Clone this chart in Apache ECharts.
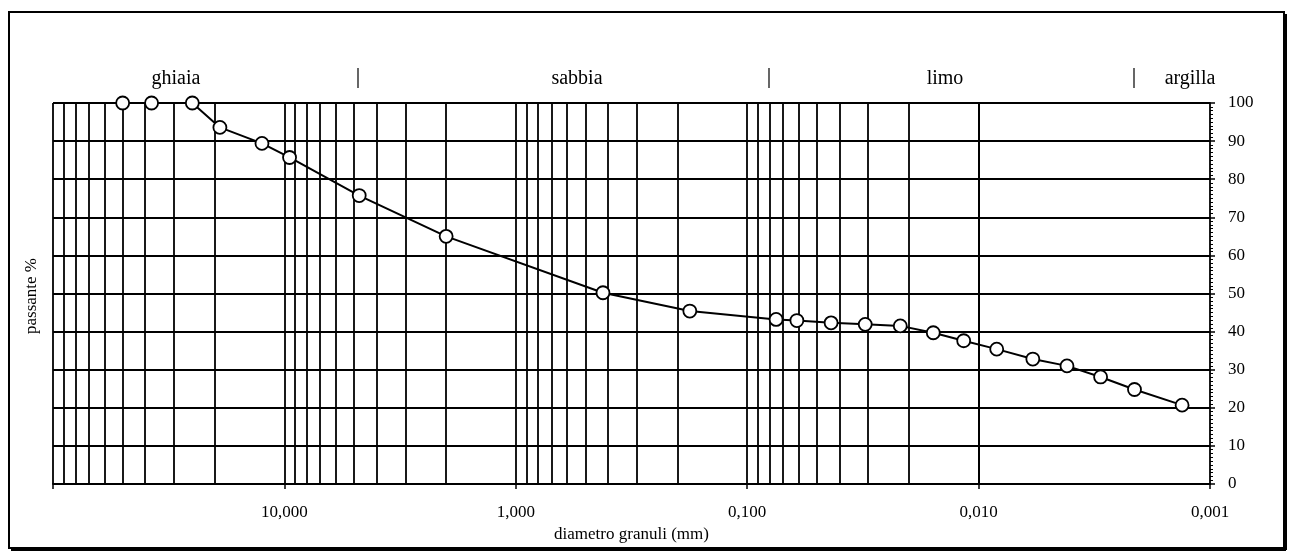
<!DOCTYPE html>
<html>
<head>
<meta charset="utf-8">
<script src="https://cdn.jsdelivr.net/npm/echarts@6/dist/echarts.min.js"></script>
<style>
  html, body { margin: 0; padding: 0; background: #fff; }
  #chart { width: 1293px; height: 554px; }
</style>
</head>
<body>
<div id="chart"></div>
<script>
// curva granulometrica: diametro (mm) / passante (%)
const diametri = [50, 37.5, 25, 19, 12.5, 9.5, 4.75, 2, 0.42, 0.177, 0.075, 0.061, 0.0434, 0.0309,
  0.0218, 0.0157, 0.0116, 0.00835, 0.00583, 0.00415, 0.00297, 0.00212, 0.00132];
const passante = [100, 100, 100, 93.6, 89.4, 85.7, 75.7, 65.0, 50.2, 45.4, 43.2, 42.9, 42.3, 41.9,
  41.5, 39.7, 37.6, 35.4, 32.8, 31.0, 28.1, 24.8, 20.7];

// griglia logaritmica: mantisse 1..9 per ogni decade
const decadi = [0.001, 0.01, 0.1, 1, 10];
const mantisse = [1, 2, 3, 4, 5, 6, 7, 8, 9];
const classi = ['ghiaia', 'sabbia', 'limo', 'argilla'];

const FONT = 'Liberation Serif';

const lineeGriglia = [100];
decadi.forEach(d => mantisse.forEach(m => lineeGriglia.push(+(m * d).toPrecision(3))));

const chart = echarts.init(document.getElementById('chart'));

chart.setOption({
  animation: false,
  backgroundColor: '#fff',
  grid: { left: 53, right: 83, top: 103, bottom: 70 },
  xAxis: {
    type: 'log',
    logBase: 10,
    min: 0.001,
    max: 100,
    inverse: true,
    splitNumber: 5,
    axisLine: { show: true, onZero: false, lineStyle: { color: '#000', width: 1.8 } },
    axisTick: { show: true, length: 5, lineStyle: { color: '#000', width: 1.5 } },
    splitLine: { show: false },
    axisLabel: {
      color: '#000', fontFamily: FONT, fontSize: 17, margin: 20,
      formatter: v => (v > 50 ? '' : v.toFixed(3).replace('.', ','))
    },
    name: 'diametro granuli (mm)',
    nameLocation: 'middle',
    nameGap: 35,
    nameTextStyle: { color: '#000', fontFamily: FONT, fontSize: 17 }
  },
  yAxis: {
    type: 'value',
    position: 'right',
    min: 0,
    max: 100,
    interval: 10,
    axisLine: { show: true, lineStyle: { color: '#000', width: 1.8 } },
    axisTick: { show: true, length: 5, lineStyle: { color: '#000', width: 1.5 } },
    minorTick: { show: true, splitNumber: 10, length: 3, lineStyle: { color: '#000', width: 1 } },
    splitLine: { show: true, lineStyle: { color: '#000', width: 1.8 } },
    axisLabel: { color: '#000', fontFamily: FONT, fontSize: 17, margin: 18 }
  },
  series: [{
    type: 'line',
    data: diametri.map((d, i) => [d, passante[i]]),
    clip: false,
    z: 3,
    symbol: 'circle',
    symbolSize: 13,
    itemStyle: { color: '#fff', borderColor: '#000', borderWidth: 1.8 },
    lineStyle: { color: '#000', width: 2 },
    markLine: {
      silent: true,
      z: 1,
      symbol: ['none', 'none'],
      label: { show: false },
      lineStyle: { color: '#000', width: 1.8, type: 'solid' },
      data: lineeGriglia.map(v => ({ xAxis: v }))
    }
  }],
  graphic: [
    // cornice esterna
    { type: 'rect', shape: { x: 9, y: 12, width: 1275, height: 536 },
      style: { fill: 'none', stroke: '#000', lineWidth: 2 } },
    { type: 'line', shape: { x1: 1286, y1: 14, x2: 1286, y2: 550 }, style: { stroke: '#000', lineWidth: 2 } },
    { type: 'line', shape: { x1: 11, y1: 550, x2: 1286, y2: 550 }, style: { stroke: '#000', lineWidth: 2 } },
    // titolo asse y
    { type: 'text', x: 32, y: 296, rotation: Math.PI / 2,
      style: { text: 'passante %', fill: '#000', font: '17px "Liberation Serif"', align: 'center', verticalAlign: 'middle' } },
    // classi granulometriche
    { type: 'text', x: 176, y: 79, style: { text: classi[0], fill: '#000', font: '20px "Liberation Serif"', align: 'center', verticalAlign: 'middle' } },
    { type: 'text', x: 577, y: 79, style: { text: classi[1], fill: '#000', font: '20px "Liberation Serif"', align: 'center', verticalAlign: 'middle' } },
    { type: 'text', x: 945, y: 79, style: { text: classi[2], fill: '#000', font: '20px "Liberation Serif"', align: 'center', verticalAlign: 'middle' } },
    { type: 'text', x: 1190, y: 79, style: { text: classi[3], fill: '#000', font: '20px "Liberation Serif"', align: 'center', verticalAlign: 'middle' } },
    { type: 'line', shape: { x1: 358, y1: 68, x2: 358, y2: 88 }, style: { stroke: '#000', lineWidth: 1.2 } },
    { type: 'line', shape: { x1: 769, y1: 68, x2: 769, y2: 88 }, style: { stroke: '#000', lineWidth: 1.2 } },
    { type: 'line', shape: { x1: 1134, y1: 68, x2: 1134, y2: 88 }, style: { stroke: '#000', lineWidth: 1.2 } }
  ]
});
</script>
</body>
</html>
